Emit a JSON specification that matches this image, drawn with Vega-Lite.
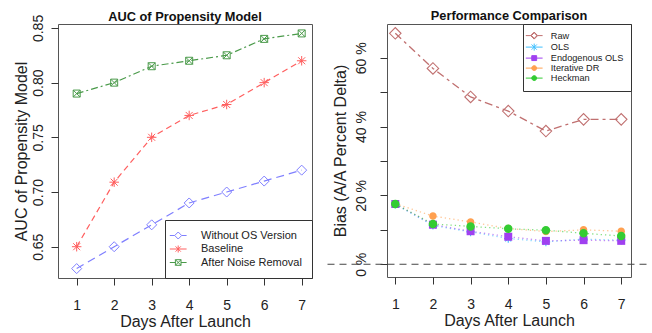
{
  "$schema": "https://vega.github.io/schema/vega-lite/v6.json",
  "background": "white",
  "padding": {"left": 13, "top": 9, "right": 0, "bottom": 0},
  "spacing": 75,
  "bounds": "flush",
  "config": {
    "font": "Liberation Sans",
    "view": {"stroke": "#555555", "strokeWidth": 1},
    "axis": {"domain": false, "grid": false, "tickColor": "#333333", "tickSize": 7, "labelFontSize": 14, "titleFontSize": 16, "titleFontWeight": "normal", "labelColor": "#222222", "titleColor": "#222222"},
    "axisX": {"labelPadding": 13, "titlePadding": 1},
    "title": {"fontSize": 12.8, "fontWeight": "bold", "color": "#111111", "frame": "group"}
  },
  "datasets": {
    "auc": [
      {"day": 1, "model": "Without OS Version", "auc": 0.63},
      {"day": 2, "model": "Without OS Version", "auc": 0.65},
      {"day": 3, "model": "Without OS Version", "auc": 0.67},
      {"day": 4, "model": "Without OS Version", "auc": 0.69},
      {"day": 5, "model": "Without OS Version", "auc": 0.70},
      {"day": 6, "model": "Without OS Version", "auc": 0.71},
      {"day": 7, "model": "Without OS Version", "auc": 0.72},
      {"day": 1, "model": "Baseline", "auc": 0.65},
      {"day": 2, "model": "Baseline", "auc": 0.709},
      {"day": 3, "model": "Baseline", "auc": 0.75},
      {"day": 4, "model": "Baseline", "auc": 0.77},
      {"day": 5, "model": "Baseline", "auc": 0.78},
      {"day": 6, "model": "Baseline", "auc": 0.80},
      {"day": 7, "model": "Baseline", "auc": 0.82},
      {"day": 1, "model": "After Noise Removal", "auc": 0.79},
      {"day": 2, "model": "After Noise Removal", "auc": 0.80},
      {"day": 3, "model": "After Noise Removal", "auc": 0.815},
      {"day": 4, "model": "After Noise Removal", "auc": 0.82},
      {"day": 5, "model": "After Noise Removal", "auc": 0.825},
      {"day": 6, "model": "After Noise Removal", "auc": 0.84},
      {"day": 7, "model": "After Noise Removal", "auc": 0.845}
    ],
    "bias": [
      {"day": 1, "method": "Raw", "bias": 67.1},
      {"day": 2, "method": "Raw", "bias": 56.9},
      {"day": 3, "method": "Raw", "bias": 48.6},
      {"day": 4, "method": "Raw", "bias": 44.5},
      {"day": 5, "method": "Raw", "bias": 38.7},
      {"day": 6, "method": "Raw", "bias": 42.1},
      {"day": 7, "method": "Raw", "bias": 42.1},
      {"day": 1, "method": "OLS", "bias": 17.4},
      {"day": 2, "method": "OLS", "bias": 11.3},
      {"day": 3, "method": "OLS", "bias": 9.4},
      {"day": 4, "method": "OLS", "bias": 7.5},
      {"day": 5, "method": "OLS", "bias": 6.5},
      {"day": 6, "method": "OLS", "bias": 7.3},
      {"day": 7, "method": "OLS", "bias": 7.0},
      {"day": 1, "method": "Iterative DR", "bias": 17.6},
      {"day": 2, "method": "Iterative DR", "bias": 14.0},
      {"day": 3, "method": "Iterative DR", "bias": 12.3},
      {"day": 4, "method": "Iterative DR", "bias": 10.4},
      {"day": 5, "method": "Iterative DR", "bias": 9.5},
      {"day": 6, "method": "Iterative DR", "bias": 10.0},
      {"day": 7, "method": "Iterative DR", "bias": 9.6},
      {"day": 1, "method": "Endogenous OLS", "bias": 17.5},
      {"day": 2, "method": "Endogenous OLS", "bias": 11.5},
      {"day": 3, "method": "Endogenous OLS", "bias": 9.6},
      {"day": 4, "method": "Endogenous OLS", "bias": 8.0},
      {"day": 5, "method": "Endogenous OLS", "bias": 6.8},
      {"day": 6, "method": "Endogenous OLS", "bias": 7.0},
      {"day": 7, "method": "Endogenous OLS", "bias": 6.8},
      {"day": 1, "method": "Heckman", "bias": 17.5},
      {"day": 2, "method": "Heckman", "bias": 11.7},
      {"day": 3, "method": "Heckman", "bias": 11.0},
      {"day": 4, "method": "Heckman", "bias": 10.3},
      {"day": 5, "method": "Heckman", "bias": 9.9},
      {"day": 6, "method": "Heckman", "bias": 9.0},
      {"day": 7, "method": "Heckman", "bias": 8.2}
    ],
    "zero": [
      {"x": -0.8, "y": 0},
      {"x": 7.8, "y": 0}
    ]
  },
  "resolve": {
    "scale": {"color": "independent"},
    "legend": {"color": "independent"}
  },
  "hconcat": [
    {
      "width": 254,
      "height": 254,
      "title": {"text": "AUC of Propensity Model", "offset": -9},
      "data": {"name": "auc"},
      "encoding": {
        "x": {"field": "day", "type": "quantitative", "scale": {"domain": [0.502, 7.275], "nice": false, "zero": false}, "axis": {"values": [1, 2, 3, 4, 5, 6, 7], "title": "Days After Launch"}},
        "y": {"field": "auc", "type": "quantitative", "scale": {"domain": [0.6214, 0.8536], "nice": false, "zero": false}, "axis": {"values": [0.65, 0.7, 0.75, 0.8, 0.85], "format": ".2f", "labelAngle": 270, "labelAlign": "center", "labelBaseline": "middle", "labelPadding": 13, "title": "AUC of Propensity Model", "titlePadding": 1.5}}
      },
      "layer": [
        {
          "transform": [{"filter": "datum.model === 'Without OS Version'"}],
          "mark": {"type": "line", "strokeWidth": 1.2, "strokeDash": [8, 5]},
          "encoding": {
            "color": {
              "field": "model", "type": "nominal",
              "scale": {"domain": ["Without OS Version", "Baseline", "After Noise Removal"], "range": ["#7f7fff", "#ff5f5f", "#4a9a4a"]},
              "legend": {
                "orient": "bottom-right", "offset": 0, "title": null,
                "fillColor": "white", "strokeColor": "#333333", "padding": 10,
                "symbolSize": 49, "symbolOffset": -2.3, "labelOffset": 17.3, "labelFontSize": 11, "labelColor": "#222222", "rowPadding": 1.5, "labelLimit": 250,
                "encode": {"symbols": {"update": {
                  "shape": {"signal": "datum.value === 'Without OS Version' ? 'M-2.4,0H-1M1,0H2.4M-1,0L0,-1L1,0L0,1Z' : datum.value === 'Baseline' ? 'M-2.4,0H2.4M0,-1V1M-0.75,-0.75L0.75,0.75M-0.75,0.75L0.75,-0.75' : 'M-2.4,0H-0.8M0.8,0H2.4M-0.8,-0.8H0.8V0.8H-0.8ZM-0.8,-0.8L0.8,0.8M-0.8,0.8L0.8,-0.8'"},
                  "fill": {"value": "transparent"},
                  "strokeWidth": {"value": 1},
                  "strokeDash": {"value": []},
                  "opacity": {"value": 1}
                }}}
              }
            }
          }
        },
        {
          "transform": [{"filter": "datum.model === 'Baseline'"}],
          "mark": {"type": "line", "strokeWidth": 1.2, "strokeDash": [6, 4]},
          "encoding": {"color": {"field": "model", "type": "nominal"}}
        },
        {
          "transform": [{"filter": "datum.model === 'After Noise Removal'"}],
          "mark": {"type": "line", "strokeWidth": 1.2, "strokeDash": [7, 3, 2, 3]},
          "encoding": {"color": {"field": "model", "type": "nominal"}}
        },
        {
          "transform": [{"filter": "datum.model === 'Without OS Version'"}],
          "mark": {"type": "point", "filled": false, "size": 100, "strokeWidth": 1, "opacity": 1, "shape": "M-1,0L0,-1L1,0L0,1Z"},
          "encoding": {"color": {"field": "model", "type": "nominal"}}
        },
        {
          "transform": [{"filter": "datum.model === 'Baseline'"}],
          "mark": {"type": "point", "filled": false, "size": 100, "strokeWidth": 1, "opacity": 1, "shape": "M-0.95,0H0.95M0,-0.95V0.95M-0.7,-0.7L0.7,0.7M-0.7,0.7L0.7,-0.7"},
          "encoding": {"color": {"field": "model", "type": "nominal"}}
        },
        {
          "transform": [{"filter": "datum.model === 'After Noise Removal'"}],
          "mark": {"type": "point", "filled": false, "size": 100, "strokeWidth": 1, "opacity": 1, "shape": "M-0.7,-0.7H0.7V0.7H-0.7ZM-0.7,-0.7L0.7,0.7M-0.7,0.7L0.7,-0.7"},
          "encoding": {"color": {"field": "model", "type": "nominal"}}
        }
      ]
    },
    {
      "width": 244,
      "height": 253,
      "title": {"text": "Performance Comparison", "offset": 1},
      "encoding": {
        "x": {"field": "day", "type": "quantitative", "scale": {"domain": [0.78, 7.26], "nice": false, "zero": false}, "axis": {"values": [1, 2, 3, 4, 5, 6, 7], "title": "Days After Launch"}},
        "y": {"field": "bias", "type": "quantitative", "scale": {"domain": [-3.7, 69.8], "nice": false, "zero": false}, "axis": {"values": [0, 10, 20, 30, 40, 50, 60], "labelExpr": "datum.value % 20 === 0 ? datum.value + ' %' : ''", "labelAngle": 270, "labelAlign": "center", "labelBaseline": "middle", "labelPadding": 19, "title": "Bias (A/A Percent Delta)", "titlePadding": 6}}
      },
      "layer": [
        {
          "data": {"name": "zero"},
          "mark": {"type": "line", "clip": false, "strokeDash": [7, 5], "color": "#444444", "strokeWidth": 1},
          "encoding": {
            "x": {"field": "x", "type": "quantitative"},
            "y": {"field": "y", "type": "quantitative"}
          }
        },
        {
          "data": {"name": "bias"},
          "transform": [{"filter": "datum.method === 'Raw'"}],
          "mark": {"type": "line", "strokeWidth": 1.3, "strokeDash": [8, 4, 3, 4]},
          "encoding": {
            "color": {
              "field": "method", "type": "nominal",
              "scale": {"domain": ["Raw", "OLS", "Endogenous OLS", "Iterative DR", "Heckman"], "range": ["#c07070", "#40c0ff", "#a040f0", "#ffa050", "#33cc33"]},
              "legend": {
                "orient": "top-right", "offset": 0, "title": null,
                "fillColor": "white", "strokeColor": "#333333", "padding": 7,
                "symbolSize": 49, "symbolOffset": -0.4, "labelOffset": 12, "labelFontSize": 9.2, "labelColor": "#222222", "rowPadding": -0.5, "labelLimit": 250,
                "encode": {"symbols": {"update": {
                  "shape": {"signal": "datum.value === 'Raw' ? 'M-2.4,0H-1M1,0H2.4M-1,0L0,-1L1,0L0,1ZM-0.8,0L0,0.8L0.8,0L0,-0.8Z' : datum.value === 'OLS' ? 'M-2.4,0H2.4M0,-1V1M-0.75,-0.75L0.75,0.75M-0.75,0.75L0.75,-0.75' : datum.value === 'Endogenous OLS' ? 'M-2.4,0H2.4M-0.7,-0.7H0.7V0.7H-0.7Z' : 'M-2.4,0H2.4M-0.7,0A0.7,0.7 0 1,0 0.7,0A0.7,0.7 0 1,0 -0.7,0Z'"},
                  "fill": {"signal": "datum.value === 'Endogenous OLS' ? '#a040f0' : datum.value === 'Iterative DR' ? '#ffa050' : datum.value === 'Heckman' ? '#33cc33' : datum.value === 'Raw' ? '#c07070' : 'transparent'"},
                  "strokeWidth": {"value": 1},
                  "strokeDash": {"value": []},
                  "opacity": {"value": 1}
                }}}
              }
            }
          }
        },
        {
          "data": {"name": "bias"},
          "transform": [{"filter": "datum.method !== 'Raw'"}],
          "mark": {"type": "line", "strokeWidth": 1.3, "strokeDash": [1.3, 3], "opacity": 0.6},
          "encoding": {"color": {"field": "method", "type": "nominal"}}
        },
        {
          "data": {"name": "bias"},
          "transform": [{"filter": "datum.method === 'Raw'"}],
          "mark": {"type": "point", "filled": false, "size": 100, "strokeWidth": 1.1, "opacity": 1, "shape": "M-1.15,0L0,-1.15L1.15,0L0,1.15Z"},
          "encoding": {"color": {"field": "method", "type": "nominal"}}
        },
        {
          "data": {"name": "bias"},
          "transform": [{"filter": "datum.method === 'OLS'"}],
          "mark": {"type": "point", "filled": false, "size": 100, "strokeWidth": 1.1, "opacity": 1, "shape": "M-0.85,0H0.85M0,-0.85V0.85M-0.6,-0.6L0.6,0.6M-0.6,0.6L0.6,-0.6"},
          "encoding": {"color": {"field": "method", "type": "nominal"}}
        },
        {
          "data": {"name": "bias"},
          "transform": [{"filter": "datum.method === 'Iterative DR'"}],
          "mark": {"type": "point", "filled": true, "size": 100, "opacity": 1, "shape": "M-0.75,0A0.75,0.75 0 1,0 0.75,0A0.75,0.75 0 1,0 -0.75,0Z"},
          "encoding": {"color": {"field": "method", "type": "nominal"}}
        },
        {
          "data": {"name": "bias"},
          "transform": [{"filter": "datum.method === 'Endogenous OLS'"}],
          "mark": {"type": "point", "filled": true, "size": 100, "opacity": 1, "shape": "M-0.8,-0.8H0.8V0.8H-0.8Z"},
          "encoding": {"color": {"field": "method", "type": "nominal"}}
        },
        {
          "data": {"name": "bias"},
          "transform": [{"filter": "datum.method === 'Heckman'"}],
          "mark": {"type": "point", "filled": true, "size": 100, "opacity": 1, "shape": "M-0.85,0A0.85,0.85 0 1,0 0.85,0A0.85,0.85 0 1,0 -0.85,0Z"},
          "encoding": {"color": {"field": "method", "type": "nominal"}}
        }
      ]
    }
  ]
}
